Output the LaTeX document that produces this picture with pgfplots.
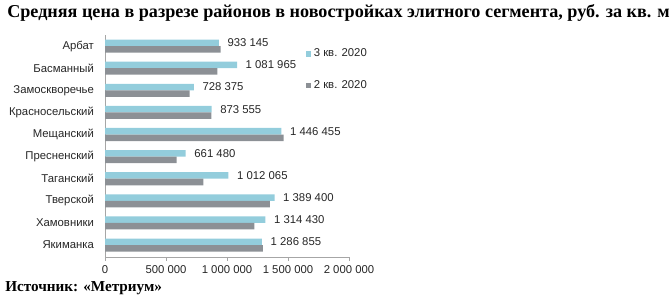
\documentclass[border=0pt]{standalone}
\usepackage{pgfplots}
\pgfplotsset{compat=1.18}
\usepackage{fontspec}
\setmainfont{Liberation Serif}
\newfontfamily\arial{Liberation Sans}
\definecolor{qthree}{HTML}{93CDDC}
\definecolor{qtwo}{HTML}{8C9095}
\definecolor{axgray}{HTML}{A6A6A6}
\definecolor{txt}{HTML}{262626}
\begin{document}
\begin{tikzpicture}[x=0.75pt,y=0.75pt]
\path[use as bounding box] (0,0) rectangle (671,298);
\node[anchor=base west,inner sep=0pt,font=\fontsize{13.6pt}{15pt}\selectfont\bfseries] at (7,281) {Средняя цена в разрезе районов в новостройках элитного сегмента, руб. за кв. м};
\node[anchor=base west,inner sep=0pt,font=\fontsize{11.4pt}{13pt}\selectfont\bfseries] at (5,7) {Источник: «Метриум»};
\begin{axis}[
  at={(78.75pt,30.75pt)}, anchor=south west,
  scale only axis, width=183pt, height=166.5pt,
  xbar, bar width=4.9pt,
  xmin=0, xmax=2000000,
  ymin=-0.54, ymax=9.5,
  ytick={0,...,9},
  yticklabels={Якиманка,Хамовники,Тверской,Таганский,Пресненский,Мещанский,Красносельский,Замоскворечье,Басманный,Арбат},
  xtick={0,500000,1000000,1500000,2000000},
  xticklabels={0,500 000,1 000 000,1 500 000,2 000 000},
  scaled x ticks=false,
  axis x line*=bottom, axis y line*=left,
  axis line style={axgray},
  x axis line style={-}, y axis line style={-},
  xtick style={axgray}, ytick style={draw=none},
  tick align=outside, major tick length=3pt,
  tick label style={font=\arial\fontsize{8.5pt}{10pt}\selectfont, text=txt},
  yticklabel style={xshift=-1.8pt},
  every node near coord/.append style={font=\arial\fontsize{8.5pt}{10pt}\selectfont, text=txt, anchor=west, xshift=3pt},
  legend style={at={(0.822,0.95)}, anchor=north west, draw=none, fill=none,
    font=\arial\fontsize{8.5pt}{10pt}\selectfont, text=txt,
    row sep=12pt, inner sep=0pt},
  legend cell align=left,
  legend image code/.code={\fill[#1,draw=none] (0pt,-2pt) rectangle (4pt,2pt);},
  clip=false,
]
\addplot[fill=qthree, draw=none, bar shift=2.45pt,
  point meta=explicit symbolic, nodes near coords]
coordinates {
(1286855,0) [1 286 855]
(1314430,1) [1 314 430]
(1389400,2) [1 389 400]
(1012065,3) [1 012 065]
(661480,4) [661 480]
(1446455,5) [1 446 455]
(873555,6) [873 555]
(728375,7) [728 375]
(1081965,8) [1 081 965]
(933145,9) [933 145]
};
\addplot[fill=qtwo, draw=none, bar shift=-2.45pt]
coordinates {
(1295000,0)
(1224000,1)
(1352000,2)
(806000,3)
(588000,4)
(1465000,5)
(872000,6)
(694000,7)
(921000,8)
(948000,9)
};
\legend{3 кв. 2020,2 кв. 2020}
\end{axis}
\end{tikzpicture}
\end{document}
